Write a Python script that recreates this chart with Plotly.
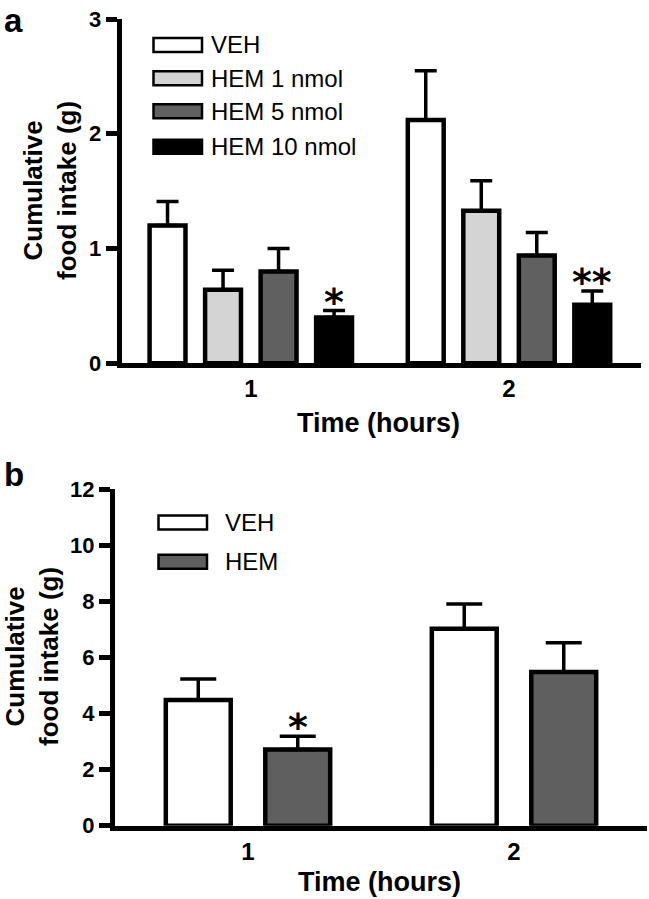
"""
Cumulative food intake after HEM treatment, two-panel bar chart
"""

import plotly.graph_objects as go

FIG_W, FIG_H = 649, 899
FONT = "Liberation Sans, Arial, sans-serif"

# Panel a: dose response
times = ["1", "2"]
doses = ["VEH", "HEM 1 nmol", "HEM 5 nmol", "HEM 10 nmol"]
dose_colors = ["#ffffff", "#d4d4d4", "#606060", "#000000"]
intake_veh_a = [1.20, 2.12]
intake_hem1_a = [0.64, 1.33]
intake_hem5_a = [0.80, 0.94]
intake_hem10_a = [0.40, 0.51]
sem_veh_a = [0.21, 0.43]
sem_hem1_a = [0.17, 0.26]
sem_hem5_a = [0.20, 0.20]
sem_hem10_a = [0.06, 0.12]
stars_a = [("HEM 10 nmol", 0, "*"), ("HEM 10 nmol", 1, "**")]

# Panel b: single dose
groups_b = ["VEH", "HEM"]
group_colors_b = ["#ffffff", "#5f5f5f"]
intake_veh_b = [4.48, 7.02]
intake_hem_b = [2.72, 5.48]
sem_veh_b = [0.75, 0.88]
sem_hem_b = [0.47, 1.04]
stars_b = [("HEM", 0, "*")]

ticks_a = [0, 1, 2, 3]
ticks_b = [0, 2, 4, 6, 8, 10, 12]


def px(x):
    return x / FIG_W


def py(y):
    return 1 - y / FIG_H


fig = go.Figure()

# bar slot / width in category units
A_SLOT, A_WIDTH = 0.215, 0.139
B_SLOT, B_WIDTH = 0.374, 0.244


def add_bars(names, colors, values, sems, slot, width, xa, ya, cap):
    n = len(names)
    centers = {}
    for i, name in enumerate(names):
        center = (i - (n - 1) / 2) * slot
        centers[name] = center
        fig.add_trace(go.Bar(
            x=times,
            y=values[i],
            name=name,
            width=width,
            offset=center - width / 2,
            marker=dict(color=colors[i], line=dict(color="black", width=4.5)),
            error_y=dict(type="data", symmetric=False, array=sems[i],
                         arrayminus=[0] * len(times), color="black",
                         thickness=3.5, width=cap),
            xaxis=xa, yaxis=ya,
            showlegend=False,
            hovertemplate='<b>%{fullData.name}</b><br>Hour %{x}: %{y:.2f} g<extra></extra>'
        ))
    return centers


values_a = [intake_veh_a, intake_hem1_a, intake_hem5_a, intake_hem10_a]
sems_a = [sem_veh_a, sem_hem1_a, sem_hem5_a, sem_hem10_a]
values_b = [intake_veh_b, intake_hem_b]
sems_b = [sem_veh_b, sem_hem_b]

centers_a = add_bars(doses, dose_colors, values_a, sems_a,
                     A_SLOT, A_WIDTH, "x", "y", 11)
centers_b = add_bars(groups_b, group_colors_b, values_b, sems_b,
                     B_SLOT, B_WIDTH, "x2", "y2", 18)

annotations = []
star_font = dict(family="DejaVu Sans", size=38, color="black", weight="bold")


def add_stars(stars, names, values, sems, centers, xa, ya):
    for name, t, txt in stars:
        i = names.index(name)
        annotations.append(dict(
            x=t + centers[name], y=values[i][t] + sems[i][t],
            xref=xa, yref=ya, text=txt, showarrow=False,
            xanchor="center", yanchor="bottom", yshift=-15, font=star_font))


add_stars(stars_a, doses, values_a, sems_a, centers_a, "x", "y")
add_stars(stars_b, groups_b, values_b, sems_b, centers_b, "x2", "y2")

# panel letters, axis titles
bold = dict(family=FONT, color="black", weight="bold")
labels = [
    dict(x=px(2), y=py(0), text="a", xanchor="left", yanchor="top",
         font=dict(bold, size=33)),
    dict(x=px(2), y=py(474), text="b", xanchor="left", font=dict(bold, size=33)),
    dict(x=px(50), y=py(191), text="Cumulative<br>food intake (g)",
         textangle=-90, font=dict(bold, size=26)),
    dict(x=px(32), y=py(657), text="Cumulative<br>food intake (g)",
         textangle=-90, font=dict(bold, size=26)),
    dict(x=px(378), y=py(423), text="Time (hours)", font=dict(bold, size=27)),
    dict(x=px(379), y=py(882), text="Time (hours)", font=dict(bold, size=27)),
]
for a in labels:
    a.setdefault("xanchor", "center")
    a.setdefault("yanchor", "middle")
    a.update(xref="paper", yref="paper", showarrow=False)
annotations += labels

# hand-drawn legends (wide boxes like the original)
shapes = []


def add_legend(names, colors, rows, x0, x1, tx, h=14):
    for name, color, yc in zip(names, colors, rows):
        shapes.append(dict(type="rect", xref="paper", yref="paper",
                           x0=px(x0), x1=px(x1), y0=py(yc + h / 2), y1=py(yc - h / 2),
                           fillcolor=color, line=dict(color="black", width=2.5)))
        annotations.append(dict(x=px(tx), y=py(yc), xref="paper", yref="paper",
                                text=name, showarrow=False, xanchor="left",
                                yanchor="middle",
                                font=dict(family=FONT, size=24, color="black")))


add_legend(doses, dose_colors, [45, 78.3, 111.2, 146.8], 153.5, 202, 209)
add_legend(groups_b, group_colors_b, [522.5, 561.7], 158.5, 207, 223)

xaxis_common = dict(type="category", showline=True, linewidth=5, linecolor="black",
                    ticks="", showgrid=False, zeroline=False, automargin=False,
                    tickfont=dict(family=FONT, size=24, color="black", weight="bold"))
yaxis_common = dict(showline=True, linewidth=5, linecolor="black", ticks="outside",
                    ticklen=11, tickwidth=5, tickcolor="black", automargin=False,
                    showgrid=False, zeroline=False)

fig.update_layout(
    template="none",
    width=FIG_W, height=FIG_H,
    margin=dict(l=0, r=0, t=0, b=0, pad=0),
    paper_bgcolor="white", plot_bgcolor="white",
    barmode="overlay",
    xaxis=dict(xaxis_common, domain=[px(121.7), px(640.7)], range=[-0.5, 1.51],
               anchor="y"),
    yaxis=dict(yaxis_common, domain=[py(363.3), py(19)], range=[0, 3],
               tickvals=ticks_a, anchor="x",
               tickfont=dict(family=FONT, size=22, color="black", weight="bold")),
    xaxis2=dict(xaxis_common, domain=[px(115), px(647)], range=[-0.5, 1.5],
                anchor="y2"),
    yaxis2=dict(yaxis_common, domain=[py(825.7), py(489)], range=[0, 12],
                tickvals=ticks_b, anchor="x2",
                tickfont=dict(family=FONT, size=22, color="black", weight="bold")),
    annotations=annotations,
    shapes=shapes,
    showlegend=False,
)

# drop the default page margin so the figure sits at the window corner
fig.write_html("out.html", config={"displayModeBar": False},
               post_script="document.body.style.margin = '0';")
